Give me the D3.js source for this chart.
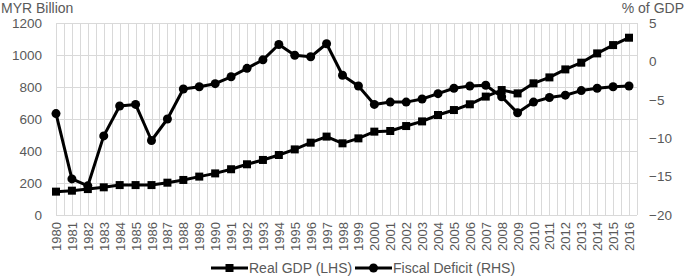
<!DOCTYPE html>
<html>
<head>
<meta charset="utf-8">
<script src="https://cdn.jsdelivr.net/npm/d3@7"></script>
<style>
  body { margin: 0; background: #fff; }
  svg text { font-family: "Liberation Sans", Arial, sans-serif; fill: #595959; }
</style>
</head>
<body>
<svg id="chart" width="685" height="278"></svg>
<script>
// data
const years = d3.range(1980, 2017).map(String);
const realGdp = [146, 152, 162, 173, 187, 187, 187, 202, 219, 240, 260, 286, 317, 344, 375, 410, 452, 490, 448, 479,
  521, 525, 556, 585, 625, 656, 692, 740, 781, 760, 823, 860, 910, 952, 1010, 1062, 1108];
const fiscalDeficit = [-6.8, -15.3, -16.2, -9.7, -5.8, -5.6, -10.3, -7.5, -3.6, -3.3, -2.9, -2.0, -0.9, 0.2, 2.2, 0.8, 0.6, 2.3, -1.8, -3.2,
  -5.6, -5.3, -5.3, -4.9, -4.2, -3.5, -3.2, -3.1, -4.6, -6.7, -5.3, -4.7, -4.4, -3.8, -3.5, -3.3, -3.2];
const leftTicks = [0, 200, 400, 600, 800, 1000, 1200];
const rightTicks = [-20, -15, -10, -5, 0, 5];

const svg = d3.select('#chart');
const plot = { left: 56, right: 637, top: 23, bottom: 215 };
const lastX = 629;

const x = d3.scalePoint().domain(years).range([plot.left, lastX]);
const step = x.step();
const yL = d3.scaleLinear().domain([0, 1200]).range([plot.bottom, plot.top]);
const yR = d3.scaleLinear().domain([-20, 5]).range([plot.bottom, plot.top]);

// gridlines
const grid = svg.append('g').attr('stroke', '#d9d9d9').attr('stroke-width', 1);
const vLines = d3.range(0, years.length * 2).map(i => plot.left + i * step / 2);
grid.selectAll('line.v')
  .data(vLines)
  .join('line')
  .attr('x1', d => Math.round(d) + 0.5).attr('x2', d => Math.round(d) + 0.5)
  .attr('y1', plot.top).attr('y2', plot.bottom);
grid.selectAll('line.h')
  .data(leftTicks)
  .join('line')
  .attr('x1', plot.left).attr('x2', plot.right)
  .attr('y1', d => Math.round(yL(d)) + 0.5).attr('y2', d => Math.round(yL(d)) + 0.5);

// left axis
const axL = svg.append('g')
  .attr('transform', `translate(${plot.left - 4},0)`)
  .call(d3.axisLeft(yL).tickValues(leftTicks).tickFormat(d3.format('d')).tickSize(0).tickPadding(10));
axL.select('.domain').remove();
axL.selectAll('text').attr('font-size', 13.5);

// right axis
const axR = svg.append('g')
  .attr('transform', `translate(${plot.right + 4},0)`)
  .call(d3.axisRight(yR).tickValues(rightTicks).tickSize(0).tickPadding(8));
axR.select('.domain').remove();
axR.selectAll('text').attr('font-size', 13.5);

// x axis labels, rotated
const axX = svg.append('g')
  .attr('transform', `translate(0,${plot.bottom})`)
  .call(d3.axisBottom(x).tickSize(0));
axX.select('.domain').remove();
axX.selectAll('text')
  .attr('font-size', 13)
  .attr('transform', 'rotate(-90)')
  .attr('text-anchor', 'end')
  .attr('x', -7)
  .attr('y', 0)
  .attr('dy', '0.35em');

// axis titles
svg.append('text').text('MYR Billion')
  .attr('x', 1).attr('y', 13).attr('font-size', 14);
svg.append('text').text('% of GDP')
  .attr('x', 684).attr('y', 13).attr('text-anchor', 'end').attr('font-size', 14);

// series
const lineL = d3.line().x((d, i) => x(years[i])).y(d => yL(d));
const lineR = d3.line().x((d, i) => x(years[i])).y(d => yR(d));

svg.append('path').datum(realGdp)
  .attr('fill', 'none').attr('stroke', '#000').attr('stroke-width', 3)
  .attr('stroke-linejoin', 'round').attr('d', lineL);
svg.append('g').selectAll('rect')
  .data(realGdp)
  .join('rect')
  .attr('x', (d, i) => x(years[i]) - 4).attr('y', d => yL(d) - 4)
  .attr('width', 8).attr('height', 8).attr('fill', '#000');

svg.append('path').datum(fiscalDeficit)
  .attr('fill', 'none').attr('stroke', '#000').attr('stroke-width', 3)
  .attr('stroke-linejoin', 'round').attr('d', lineR);
svg.append('g').selectAll('circle')
  .data(fiscalDeficit)
  .join('circle')
  .attr('cx', (d, i) => x(years[i])).attr('cy', d => yR(d))
  .attr('r', 4.5).attr('fill', '#000');

// legend
const legend = svg.append('g').attr('transform', 'translate(0,268)');
const items = [
  { label: 'Real GDP (LHS)', x: 211, marker: 'square' },
  { label: 'Fiscal Deficit (RHS)', x: 355, marker: 'circle' }
];
items.forEach(it => {
  legend.append('line')
    .attr('x1', it.x).attr('x2', it.x + 37).attr('y1', 0).attr('y2', 0)
    .attr('stroke', '#000').attr('stroke-width', 3);
  if (it.marker === 'square') {
    legend.append('rect').attr('x', it.x + 14.5).attr('y', -4).attr('width', 8).attr('height', 8).attr('fill', '#000');
  } else {
    legend.append('circle').attr('cx', it.x + 18.5).attr('cy', 0).attr('r', 4.5).attr('fill', '#000');
  }
  legend.append('text').text(it.label)
    .attr('x', it.x + 38).attr('y', 0).attr('dy', '0.35em').attr('font-size', 14);
});
</script>
</body>
</html>
